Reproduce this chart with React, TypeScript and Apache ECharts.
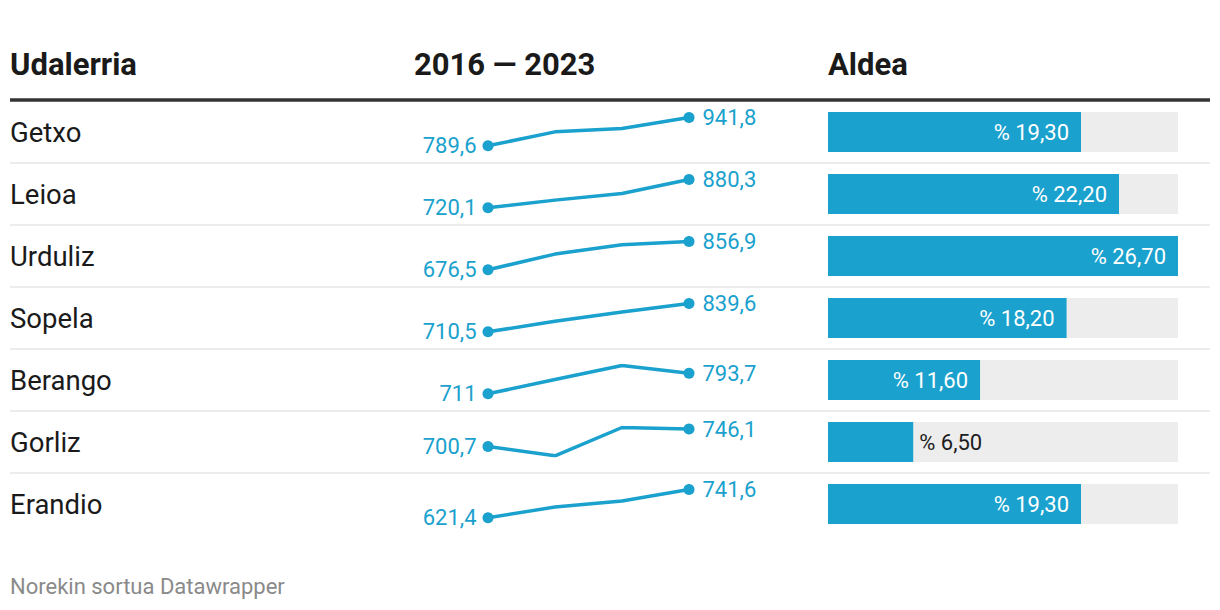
import React, { useEffect, useRef } from "react";
import * as echarts from "echarts";

const municipalities = ["Getxo", "Leioa", "Urduliz", "Sopela", "Berango", "Gorliz", "Erandio"];
const years = ["2016", "2018", "2020", "2023"];
const getxo = [789.6, 864.6, 882.9, 941.8];
const leioa = [720.1, 763.5, 801.3, 880.3];
const urduliz = [676.5, 776.6, 835.9, 856.9];
const sopela = [710.5, 758.3, 801.0, 839.6];
const berango = [711, 768.4, 824.6, 793.7];
const gorliz = [700.7, 676.4, 750.3, 746.1];
const erandio = [621.4, 666.9, 692.7, 741.6];
const sparkValues = [getxo, leioa, urduliz, sopela, berango, gorliz, erandio];
const change = [19.3, 22.2, 26.7, 18.2, 11.6, 6.5, 19.3];
const headers = ["Udalerria", "2016 — 2023", "Aldea"];
const footer = "Norekin sortua Datawrapper";

const BLUE = "#1aa1cd";
const FONT = "Roboto";
const ROW0 = 132;
const PITCH = 62;

const fmtNum = (v: number) => (Number.isInteger(v) ? String(v) : v.toFixed(1).replace(".", ","));
const fmtPct = (v: number) => "% " + v.toFixed(2).replace(".", ",");

export default function App() {
  const ref = useRef<HTMLDivElement>(null);
  useEffect(() => {
    if (!ref.current) return;
    const chart = echarts.init(ref.current, null, { renderer: "svg" });
    const n = municipalities.length;
    const grids: any[] = [];
    const xAxes: any[] = [];
    const yAxes: any[] = [];
    const series: any[] = [];
    sparkValues.forEach((vals, i) => {
      grids.push({ left: 488, width: 201, top: ROW0 - 14.5 + PITCH * i, height: 28.3 });
      xAxes.push({ type: "category", gridIndex: i, data: years, boundaryGap: false, show: false });
      yAxes.push({ type: "value", gridIndex: i, min: "dataMin", max: "dataMax", show: false, scale: true });
      const last = vals.length - 1;
      series.push({
        type: "line",
        xAxisIndex: i,
        yAxisIndex: i,
        symbol: "circle",
        lineStyle: { width: 3.5, color: BLUE },
        itemStyle: { color: BLUE },
        silent: true,
        data: vals.map((v, j) => {
          const end = j === 0 || j === last;
          return {
            value: v,
            symbolSize: end ? 11 : 0,
            label: end
              ? {
                  show: true,
                  position: j === 0 ? "left" : "right",
                  distance: j === 0 ? 6 : 8,
                  formatter: fmtNum(v),
                  color: BLUE,
                  fontSize: 22,
                  fontFamily: FONT,
                }
              : { show: false },
          };
        }),
      });
    });
    grids.push({ left: 828, width: 350, top: ROW0 - 31, height: PITCH * n });
    xAxes.push({ type: "value", gridIndex: n, min: 0, max: 26.7, show: false });
    yAxes.push({ type: "category", gridIndex: n, data: municipalities, inverse: true, show: false });
    series.push({
      type: "bar",
      xAxisIndex: n,
      yAxisIndex: n,
      barWidth: 40,
      showBackground: true,
      backgroundStyle: { color: "#ededed" },
      itemStyle: { color: BLUE },
      silent: true,
      data: change.map((v) => ({
        value: v,
        label:
          v < 8
            ? { show: true, position: "right", distance: 6, color: "#1d1d1d", formatter: fmtPct(v), fontSize: 22, fontFamily: FONT }
            : { show: true, position: "insideRight", distance: 12, color: "#fff", formatter: fmtPct(v), fontSize: 22, fontFamily: FONT },
      })),
    });

    const graphic: any[] = [];
    const headerX = [10, 414, 828];
    headers.forEach((h, k) => {
      graphic.push({
        type: "text",
        x: headerX[k],
        y: 64,
        style: { text: h, fontSize: 31, fontWeight: "bold", fontFamily: FONT, fill: "#1a1a1a", textVerticalAlign: "middle", verticalAlign: "middle" },
      });
    });
    graphic.push({ type: "line", shape: { x1: 10, y1: 100, x2: 1210, y2: 100 }, style: { stroke: "#333", lineWidth: 3.5 } });
    municipalities.forEach((m, i) => {
      graphic.push({
        type: "text",
        x: 10,
        y: ROW0 + PITCH * i,
        style: { text: m, fontSize: 27.5, fontFamily: FONT, fill: "#1a1a1a", textVerticalAlign: "middle", verticalAlign: "middle" },
      });
      if (i < n - 1) {
        const y = ROW0 + 31 + PITCH * i;
        graphic.push({ type: "line", shape: { x1: 10, y1: y, x2: 1210, y2: y }, style: { stroke: "#ececec", lineWidth: 2 } });
      }
    });
    graphic.push({
      type: "text",
      x: 10,
      y: 586,
      style: { text: footer, fontSize: 22, fontFamily: FONT, fill: "#8a8a8a", textVerticalAlign: "middle", verticalAlign: "middle" },
    });

    chart.setOption({
      animation: false,
      backgroundColor: "#fff",
      grid: grids,
      xAxis: xAxes,
      yAxis: yAxes,
      series,
      graphic,
    });
    return () => chart.dispose();
  }, []);
  return <div ref={ref} style={{ position: "absolute", left: 0, top: 0, width: 1220, height: 610 }} />;
}
